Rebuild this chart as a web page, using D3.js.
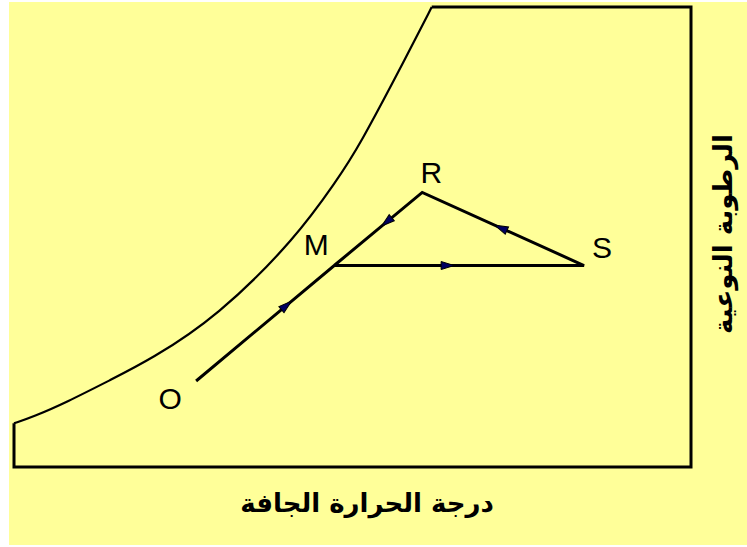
<!DOCTYPE html>
<html>
<head>
    <meta charset="utf-8">
    <title>Psychrometric process</title>
    <script type="text/javascript" src="https://cdn.jsdelivr.net/npm/d3@7/dist/d3.min.js"></script>
    <style>
        body { margin: 0; background: #fff; }
        svg { display: block; }
    </style>
</head>

<body>

<script type="text/javascript">

    // saturation curve (dry temp %, humidity %)
    var curveX = [0, 2.8, 7.8, 14.2, 20.1, 30.0, 41.8, 47.7, 50.7, 58.5, 61.7];
    var curveY = [9.5, 10.9, 14.1, 18.9, 23.3, 32.6, 50.0, 62.4, 68.9, 90.7, 100];

    // state points
    var pointNames = ["O", "M", "R", "S"];
    var pointX = [26.9, 47.3, 60.3, 84.2];
    var pointY = [18.7, 43.8, 59.7, 43.8];

    // process path and where its arrow sits on each leg
    var pathOrder = ["O", "M", "S", "R", "M"];
    var arrowAt = [0.69, 0.48, 0.55, 0.46];

    var xTitle = "درجة الحرارة الجافة",
        yTitle = "الرطوبة النوعية";

    var width = 747,
        height = 547;

    var x = d3.scaleLinear()
            .domain([0, 100])
            .range([14, 691]),

        y = d3.scaleLinear()
            .domain([0, 100])
            .range([467, 7]);

    var svg = d3.select("body").append("svg")
        .attr("width", width)
        .attr("height", height);

    svg.append("rect")
        .attr("x", 9).attr("y", 2)
        .attr("width", width - 9).attr("height", 543)
        .attr("fill", "#ffff99");

    var line = d3.line()
        .x(function(d){ return x(d[0]); })
        .y(function(d){ return y(d[1]); });

    // frame: from bottom of the curve round to its top
    var n = curveX.length;
    var frame = [
        [curveX[0], curveY[0]], [0, 0], [100, 0], [100, 100], [curveX[n - 1], curveY[n - 1]]
    ];
    svg.append("path")
        .attr("d", line(frame))
        .attr("fill", "none")
        .attr("stroke", "#000")
        .attr("stroke-width", 3)
        .attr("stroke-linejoin", "miter");

    var curveData = curveX.map(function(v, i){ return [v, curveY[i]]; });
    var smooth = d3.line()
        .x(function(d){ return x(d[0]); })
        .y(function(d){ return y(d[1]); })
        .curve(d3.curveBasis);
    svg.append("path")
        .attr("d", smooth(curveData))
        .attr("fill", "none")
        .attr("stroke", "#000")
        .attr("stroke-width", 2.2);

    function pt(name){
        var i = pointNames.indexOf(name);
        return [pointX[i], pointY[i]];
    }

    var process = pathOrder.map(pt);
    svg.append("path")
        .attr("d", line(process))
        .attr("fill", "none")
        .attr("stroke", "#000")
        .attr("stroke-width", 3)
        .attr("stroke-linejoin", "miter");

    // arrow heads
    var legs = d3.range(pathOrder.length - 1).map(function(i){
        return {a: process[i], b: process[i + 1], t: arrowAt[i]};
    });
    svg.selectAll("path.arrow")
        .data(legs)
        .enter()
        .append("path")
        .attr("class", "arrow")
        .attr("d", "M0,0 L-13,-4 L-13,4 Z")
        .attr("fill", "#000060")
        .attr("stroke", "#000")
        .attr("stroke-width", 1)
        .attr("transform", function(d){
            var x0 = x(d.a[0]), y0 = y(d.a[1]),
                x1 = x(d.b[0]), y1 = y(d.b[1]);
            var tx = x0 + (x1 - x0) * d.t,
                ty = y0 + (y1 - y0) * d.t;
            var ang = Math.atan2(y1 - y0, x1 - x0) * 180 / Math.PI;
            return "translate(" + tx + "," + ty + ") rotate(" + ang + ")";
        });

    // point labels
    var labelOffset = {O: [-26, 18], M: [-18, -21], R: [9, -20], S: [18, -18]};
    svg.selectAll("text.pt")
        .data(pointNames)
        .enter()
        .append("text")
        .attr("class", "pt")
        .attr("x", function(d){ return x(pt(d)[0]) + labelOffset[d][0]; })
        .attr("y", function(d){ return y(pt(d)[1]) + labelOffset[d][1]; })
        .attr("text-anchor", "middle")
        .attr("dominant-baseline", "central")
        .style("font-family", "'Liberation Sans', Arial, sans-serif")
        .style("font-size", "30px")
        .text(function(d){ return d; });

    // axis titles
    svg.append("text")
        .attr("x", 367)
        .attr("y", 503)
        .attr("text-anchor", "middle")
        .attr("dominant-baseline", "central")
        .style("font-family", "'DejaVu Sans', sans-serif")
        .style("font-weight", "bold")
        .style("font-size", "26px")
        .text(xTitle);

    svg.append("text")
        .attr("transform", "translate(723,234) rotate(-90)")
        .attr("text-anchor", "middle")
        .attr("dominant-baseline", "central")
        .style("font-family", "'DejaVu Sans', sans-serif")
        .style("font-weight", "bold")
        .style("font-size", "26px")
        .text(yTitle);
</script>

</body>

</html>
